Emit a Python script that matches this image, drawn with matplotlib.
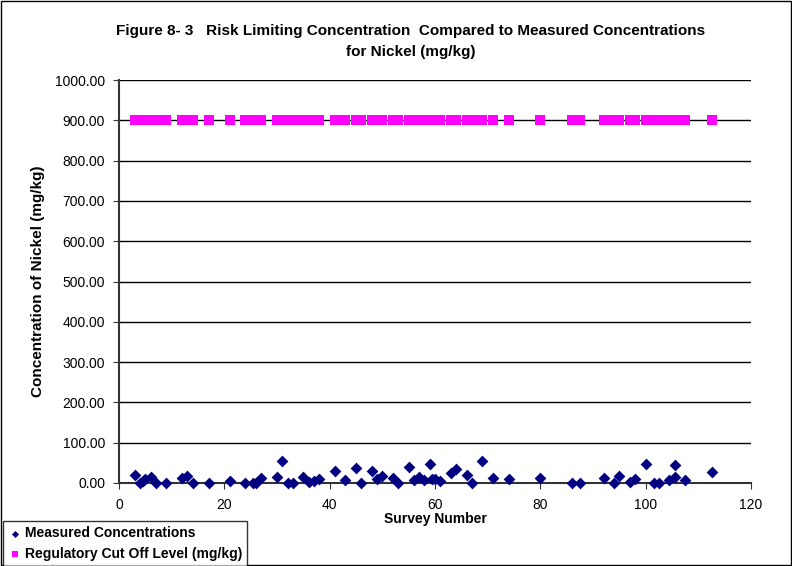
import matplotlib
matplotlib.use("Agg")
import matplotlib.pyplot as plt
from matplotlib.patches import Rectangle

plt.rcParams['font.family'] = ['Liberation Sans', 'DejaVu Sans']

# Survey numbers and measured nickel concentrations (mg/kg)
survey = [3, 4, 4.5, 5, 6, 7, 9, 12, 13, 14, 17, 21, 24, 25.5, 26, 27, 30, 31,
          32, 33, 35, 36, 37, 38, 41, 43, 45, 46, 48, 49, 50, 52, 53, 55, 56,
          57, 58, 59, 59.5, 60, 61, 63, 64, 66, 67, 69, 71, 74, 80, 86, 87.5,
          92, 94, 95, 97, 98, 100, 101.5, 102.5, 104.5, 105.5, 105.5, 107.5, 112.5]
measured = [20, 0, 5, 9, 14, 0, 0, 13, 18, 0, 0, 4, 0, 0, 0, 13, 16, 54,
            0, 0, 16, 2, 5, 9, 31, 7, 36, 0, 31, 9, 17, 13, 0, 39, 7,
            14, 7, 47, 10, 11, 4, 24, 34, 21, 0, 54, 12, 10, 12, 0, 0,
            12, 0, 18, 3, 10, 48, 1, 0, 7, 45, 14, 7, 28]
cutoff = [900] * len(survey)

x_ticks = [0, 20, 40, 60, 80, 100, 120]
y_ticks = [0, 100, 200, 300, 400, 500, 600, 700, 800, 900, 1000]

fig = plt.figure(figsize=(7.92, 5.66), dpi=100)
ax = fig.add_axes([119 / 792, 1 - 483 / 566, (751 - 119) / 792, (483 - 80) / 566])

ax.scatter(survey, measured, marker='D', s=36, color='#000080', zorder=3,
           linewidths=0, label='Measured Concentrations', clip_on=False)
ax.scatter(survey, cutoff, marker='s', s=46, color='#FF00FF', zorder=3,
           linewidths=0, label='Regulatory Cut Off Level (mg/kg)')

ax.set_xlim(0, 120)
ax.set_ylim(0, 1000)
ax.set_xticks(x_ticks)
ax.set_yticks(y_ticks)
ax.set_yticklabels([f"{v:.2f}" for v in y_ticks])
ax.grid(axis='y', color='black', linewidth=1.0, zorder=0)
ax.set_axisbelow(True)
for side in ('top', 'right'):
    ax.spines[side].set_visible(False)
ax.spines['left'].set_color('#333333')
ax.spines['bottom'].set_color('#333333')
ax.spines['left'].set_linewidth(1.5)
ax.spines['bottom'].set_linewidth(1.5)
ax.tick_params(axis='x', direction='out', length=4, labelsize=10, pad=7, color='#333333')
ax.tick_params(axis='y', direction='out', length=4, labelsize=10, pad=6, color='#333333')

ax.set_xlabel('Survey Number', fontsize=10, fontweight='bold', labelpad=0)
ax.set_ylabel('Concentration of Nickel (mg/kg)', fontsize=11, fontweight='bold', labelpad=7)

fig.text(411 / 792, 1 - 31 / 566,
         'Figure 8- 3   Risk Limiting Concentration  Compared to Measured Concentrations',
         ha='center', va='center', fontsize=11, fontweight='bold')
fig.text(411 / 792, 1 - 52 / 566, 'for Nickel (mg/kg)',
         ha='center', va='center', fontsize=11, fontweight='bold')

# outer chart border
fig.patches.append(Rectangle((0.0015, 0.0015), 0.997, 0.997, transform=fig.transFigure,
                             fill=False, edgecolor='black', linewidth=1.0))

leg = fig.legend(loc='lower left', bbox_to_anchor=(3 / 792, 0.0), frameon=True,
                 fancybox=False, edgecolor='black', markerscale=0.6,
                 handletextpad=0.2, handlelength=1.0, borderpad=0.35,
                 labelspacing=0.5, borderaxespad=0.0,
                 prop={'weight': 'bold', 'size': 10})
leg.get_frame().set_linewidth(1.0)

fig.savefig('out.png', dpi=100)
